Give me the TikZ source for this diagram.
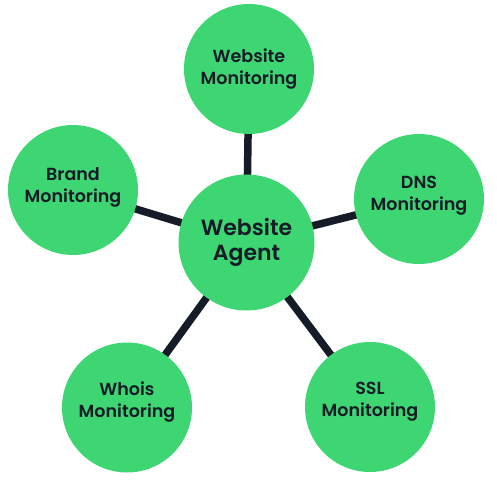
\documentclass[tikz,border=0pt]{standalone}
\usepackage{fontspec}
\setmainfont{Poppins}[BoldFont={Poppins SemiBold}]
\usetikzlibrary{backgrounds}
\definecolor{leaf}{RGB}{61,214,115}
\definecolor{ink}{RGB}{22,27,40}
\begin{document}
\begin{tikzpicture}[x=1pt,y=-1pt,
  bubble/.style={circle,fill=leaf,minimum size=130pt,inner sep=0pt},
  lbl/.style={align=center,text=ink,inner sep=0pt,font=\bfseries\fontsize{17.5}{22}\selectfont},
  hub/.style={bubble,minimum size=136pt,align=center,text=ink,font=\bfseries\fontsize{22}{25}\selectfont},
  spoke/.style={draw=ink,line width=7.5pt}]
\useasboundingbox (0,0) rectangle (496,496);
\node[hub] (c) at (246.5,242.5) {Website\\Agent};
\node[bubble,label={[lbl,yshift=0pt]center:{Website\\Monitoring}}] (t) at (249,69) {};
\node[bubble,label={[lbl,yshift=3pt]center:{Brand\\Monitoring}}] (b) at (73,190) {};
\node[bubble,label={[lbl,yshift=3.5pt]center:{DNS\\Monitoring}}] (d) at (419,199) {};
\node[bubble,label={[lbl,yshift=5pt]center:{Whois\\Monitoring}}] (w) at (127,407.5) {};
\node[bubble,label={[lbl,yshift=5pt]center:{SSL\\Monitoring}}] (s) at (370,407) {};
\begin{pgfonlayer}{background}
\foreach \n in {t,b,d,w,s} \draw[spoke] (c.center) -- (\n.center);
\end{pgfonlayer}
\end{tikzpicture}
\end{document}
